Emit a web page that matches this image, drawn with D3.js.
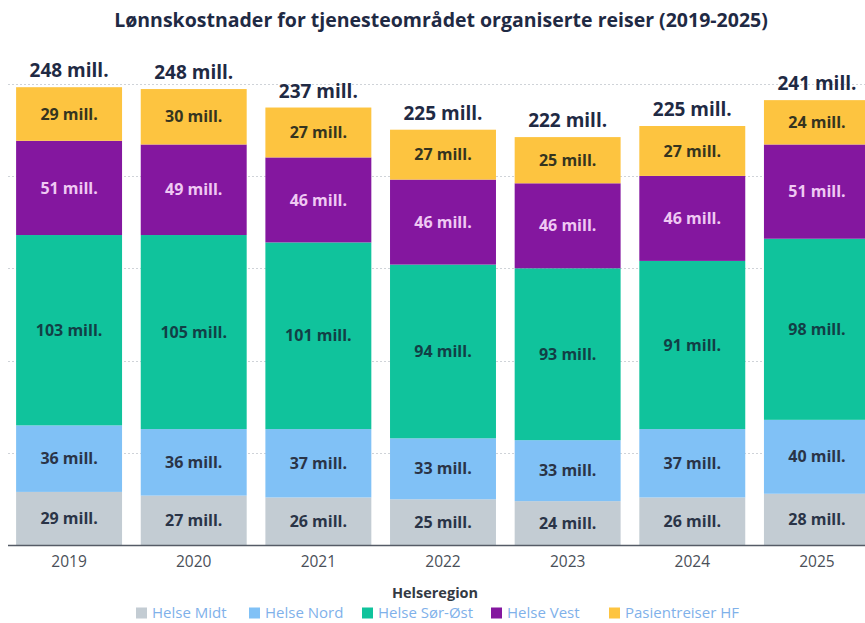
<!DOCTYPE html>
<html>
<head>
<meta charset="utf-8">
<script src="https://cdn.jsdelivr.net/npm/d3@7"></script>
<style>
  body { margin: 0; background: #fff; }
  svg { display: block; font-family: 'Open Sans', sans-serif; }
</style>
</head>
<body>
<div id="chart"></div>
<script>
// data (millions NOK)
const years = ['2019', '2020', '2021', '2022', '2023', '2024', '2025'];
const regions = ['Helse Midt', 'Helse Nord', 'Helse Sør-Øst', 'Helse Vest', 'Pasientreiser HF'];
const helseMidt = [29, 27, 26, 25, 24, 26, 28];
const helseNord = [36, 36, 37, 33, 33, 37, 40];
const helseSorOst = [103, 105, 101, 94, 93, 91, 98];
const helseVest = [51, 49, 46, 46, 46, 46, 51];
const pasientreiser = [29, 30, 27, 27, 25, 27, 24];
const totals = [248, 248, 237, 225, 222, 225, 241];
const yTicks = [0, 50, 100, 150, 200, 250];

const colors = {
    'Helse Midt': '#c3ccd3',
    'Helse Nord': '#80c1f6',
    'Helse Sør-Øst': '#10c39c',
    'Helse Vest': '#84179f',
    'Pasientreiser HF': '#fdc440'
};
const labelColors = {
    'Helse Midt': '#2a3447',
    'Helse Nord': '#2a3447',
    'Helse Sør-Øst': '#123f46',
    'Helse Vest': '#efc9f3',
    'Pasientreiser HF': '#35341f'
};

const rows = years.map((year, i) => ({
    year,
    'Helse Midt': helseMidt[i],
    'Helse Nord': helseNord[i],
    'Helse Sør-Øst': helseSorOst[i],
    'Helse Vest': helseVest[i],
    'Pasientreiser HF': pasientreiser[i],
    total: totals[i]
}));

const width = 865;
const height = 623;
const baseY = 545.5;

const svg = d3.select('#chart')
    .append('svg')
    .attr('width', width)
    .attr('height', height);

const x = d3.scaleBand()
    .domain(years)
    .range([8, 878])
    .paddingInner(0.15)
    .paddingOuter(0.065);

const y = d3.scaleLinear()
    .domain([0, 250])
    .range([baseY, 83.5]);

// title
svg.append('text')
    .attr('x', 441)
    .attr('y', 27)
    .attr('text-anchor', 'middle')
    .attr('font-size', 19.5)
    .attr('font-weight', 700)
    .attr('fill', '#1f2a44')
    .text('Lønnskostnader for tjenesteområdet organiserte reiser (2019-2025)');

// grid
svg.append('g')
    .selectAll('line')
    .data(yTicks.slice(1))
    .enter()
    .append('line')
    .attr('x1', 8)
    .attr('x2', width)
    .attr('y1', d => Math.round(y(d)) + 0.5)
    .attr('y2', d => Math.round(y(d)) + 0.5)
    .attr('stroke', '#cfd3d8')
    .attr('stroke-width', 1.2)
    .attr('stroke-dasharray', '2,2');

// stacked bars
const stack = d3.stack().keys(regions);
const series = stack(rows);

const layers = svg.append('g')
    .selectAll('g')
    .data(series)
    .enter()
    .append('g')
    .attr('fill', d => colors[d.key]);

layers.selectAll('rect')
    .data(d => d)
    .enter()
    .append('rect')
    .attr('x', d => x(d.data.year))
    .attr('y', d => y(d[1]))
    .attr('width', x.bandwidth())
    .attr('height', d => y(d[0]) - y(d[1]));

// segment labels
series.forEach(s => {
    svg.append('g')
        .selectAll('text')
        .data(s)
        .enter()
        .append('text')
        .attr('x', d => x(d.data.year) + x.bandwidth() / 2)
        .attr('y', d => (y(d[0]) + y(d[1])) / 2)
        .attr('dy', '0.35em')
        .attr('text-anchor', 'middle')
        .attr('font-size', 16)
        .attr('font-weight', 700)
        .attr('fill', labelColors[s.key])
        .text(d => `${d.data[s.key]} mill.`);
});

// total labels
svg.append('g')
    .selectAll('text')
    .data(rows)
    .enter()
    .append('text')
    .attr('x', d => x(d.year) + x.bandwidth() / 2)
    .attr('y', d => y(d3.sum(regions, k => d[k])) - 10)
    .attr('text-anchor', 'middle')
    .attr('font-size', 19)
    .attr('font-weight', 700)
    .attr('fill', '#1f2a44')
    .text(d => `${d.total} mill.`);

// x axis
const xAxis = svg.append('g')
    .attr('transform', `translate(0, ${baseY})`)
    .call(d3.axisBottom(x).tickSize(0).tickPadding(10));
xAxis.select('.domain').remove();
xAxis.append('line')
    .attr('x1', 8)
    .attr('x2', width)
    .attr('stroke', '#555b66')
    .attr('stroke-width', 1.5);
xAxis.selectAll('.tick text')
    .attr('font-family', "'Open Sans', sans-serif")
    .attr('font-size', 15.5)
    .attr('fill', '#4a4f58');

// legend
svg.append('text')
    .attr('x', 435)
    .attr('y', 598)
    .attr('text-anchor', 'middle')
    .attr('font-size', 14.5)
    .attr('font-weight', 700)
    .attr('fill', '#333a44')
    .text('Helseregion');

const legendX = [136, 249, 362, 491, 609];
const legend = svg.append('g')
    .selectAll('g')
    .data(regions)
    .enter()
    .append('g')
    .attr('transform', (d, i) => `translate(${legendX[i]}, 613)`);
legend.append('rect')
    .attr('x', 0)
    .attr('y', -5.5)
    .attr('width', 11)
    .attr('height', 11)
    .attr('fill', d => colors[d]);
legend.append('text')
    .attr('x', 16)
    .attr('y', 0)
    .attr('dy', '0.35em')
    .attr('font-size', 15)
    .attr('fill', '#7fb1ea')
    .text(d => d);
</script>
</body>
</html>
